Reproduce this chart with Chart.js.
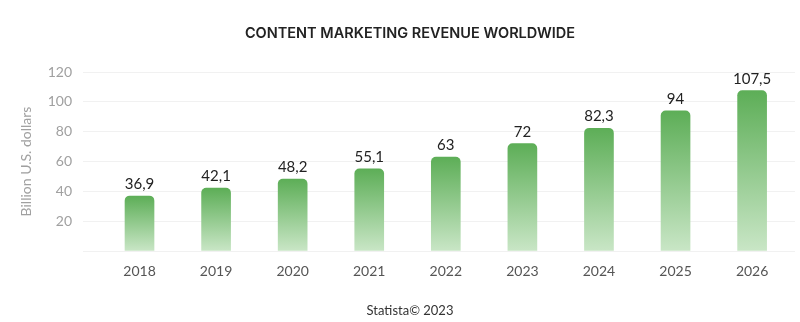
<!DOCTYPE html>
<html lang="en">
<head>
  <meta charset="UTF-8" />
  <title>Content marketing revenue worldwide</title>
  <script src="https://cdn.jsdelivr.net/npm/chart.js"></script>
  <style>
    html, body {
      margin: 0;
      padding: 0;
      background: #ffffff;
    }
    .chart-container {
      position: relative;
      width: 800px;
      height: 322px;
    }
  </style>
</head>
<body>
  <div class="chart-container">
    <canvas id="revenueChart"></canvas>
  </div>

  <script>
    // values (billion U.S. dollars)
    const years = [2018, 2019, 2020, 2021, 2022, 2023, 2024, 2025, 2026];
    const revenue = [36.9, 42.1, 48.2, 55.1, 63, 72, 82.3, 94, 107.5];
    const yTicks = [20, 40, 60, 80, 100, 120];

    const TITLE = 'CONTENT MARKETING REVENUE WORLDWIDE';
    const SOURCE = 'Statista© 2023';

    const FONT = "'Lato', 'Open Sans', sans-serif";

    // number label above each bar, with decimal comma
    const valueLabels = {
      id: 'valueLabels',
      afterDatasetsDraw(chart) {
        const ctx = chart.ctx;
        const meta = chart.getDatasetMeta(0);
        ctx.save();
        ctx.font = '15px ' + FONT;
        ctx.fillStyle = '#222222';
        ctx.textAlign = 'center';
        ctx.textBaseline = 'alphabetic';
        meta.data.forEach((bar, i) => {
          const txt = String(revenue[i]).replace('.', ',');
          ctx.fillText(txt, bar.x, bar.y - 7);
        });
        ctx.restore();
      }
    };

    // title and source line, centred a bit right of the canvas middle like the original
    const headerFooter = {
      id: 'headerFooter',
      afterDraw(chart) {
        const ctx = chart.ctx;
        const cx = chart.width / 2 + 10;
        ctx.save();
        ctx.textAlign = 'center';
        ctx.textBaseline = 'middle';
        ctx.fillStyle = '#222222';
        ctx.font = "600 14.5px 'Inter', sans-serif";
        ctx.fillText(TITLE, cx, 34);
        ctx.fillStyle = '#333333';
        ctx.font = '13px ' + FONT;
        ctx.fillText(SOURCE, cx, chart.height - 11);
        ctx.restore();
      }
    };

    function barGradient(context) {
      const chart = context.chart;
      if (!chart.chartArea || context.raw == null) return '#6ab766';
      const y = chart.scales.y;
      const top = y.getPixelForValue(context.raw.y);
      const bottom = y.getPixelForValue(0);
      const g = chart.ctx.createLinearGradient(0, top, 0, bottom);
      g.addColorStop(0, '#5dae57');
      g.addColorStop(1, '#c9e6c6');
      return g;
    }

    new Chart(document.getElementById('revenueChart'), {
      type: 'bar',
      data: {
        datasets: [{
          data: years.map((yr, i) => ({ x: yr, y: revenue[i] })),
          backgroundColor: barGradient,
          borderWidth: 0,
          borderRadius: { topLeft: 5, topRight: 5 },
          borderSkipped: 'start',
          barThickness: 29
        }]
      },
      options: {
        responsive: true,
        maintainAspectRatio: false,
        animation: false,
        layout: { padding: { left: 0, right: 5, top: 72, bottom: 41 } },
        plugins: {
          legend: { display: false },
          tooltip: { enabled: false },
          title: { display: false }
        },
        scales: {
          x: {
            type: 'linear',
            offset: false,
            min: 2017.262,
            max: 2026.56,
            grid: { display: false, drawTicks: false },
            border: { display: false },
            afterBuildTicks: (axis) => { axis.ticks = years.map(v => ({ value: v })); },
            afterFit: (axis) => { axis.height = 30; },
            ticks: {
              color: '#555555',
              font: { family: FONT, size: 14 },
              padding: 12,
              autoSkip: false,
              maxRotation: 0,
              callback: (v) => String(v)
            }
          },
          y: {
            min: 0,
            max: 120,
            afterBuildTicks: (axis) => { axis.ticks = [0].concat(yTicks).map(v => ({ value: v })); },
            afterFit: (axis) => { axis.width = 83; },
            grid: { color: '#f1f1f1', drawTicks: false },
            border: { display: false },
            ticks: {
              color: '#a0a0a0',
              font: { family: FONT, size: 14 },
              padding: 11,
              callback: (v) => (v === 0 ? '' : String(v))
            },
            title: {
              display: true,
              text: 'Billion U.S. dollars',
              color: '#a0a0a0',
              font: { family: FONT, size: 14 },
              padding: { top: 18, bottom: 0 }
            }
          }
        }
      },
      plugins: [valueLabels, headerFooter]
    });
  </script>
</body>
</html>
